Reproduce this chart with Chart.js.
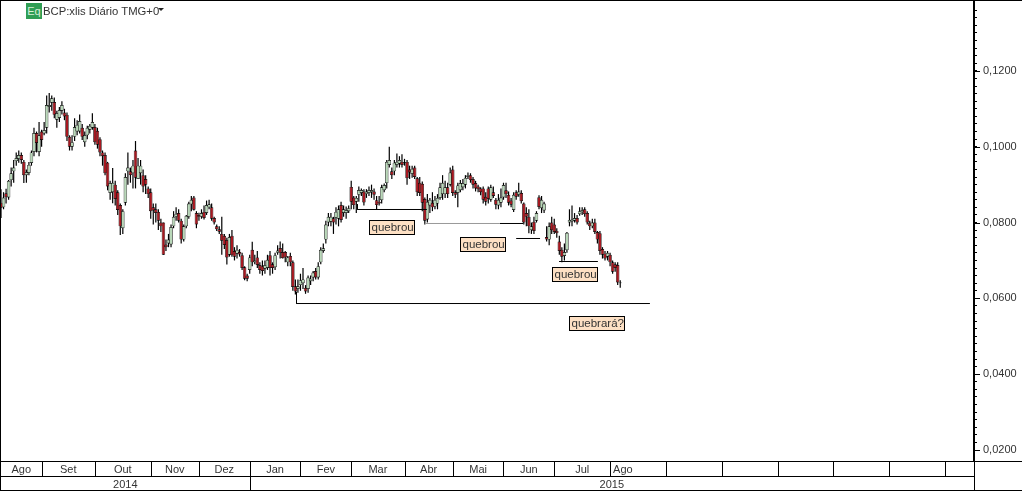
<!DOCTYPE html>
<html>
<head>
<meta charset="utf-8">
<title>BCP:xlis Diário</title>
<script src="https://cdn.jsdelivr.net/npm/chart.js@4"></script>
<style>
  html, body { margin: 0; padding: 0; background: #fff; overflow: hidden; }
  #wrap { position: relative; width: 1022px; height: 491px; font-family: "Liberation Sans", Arial, sans-serif; }
  #badge { position: absolute; left: 26px; top: 3px; width: 16px; height: 16px; background: #2f9e54; color: #d8f0d8; font-size: 11px; line-height: 16px; text-align: center; }
  #title { position: absolute; left: 43px; top: 3px; font-size: 11.3px; line-height: 16px; color: #333; white-space: nowrap; }
  #arrow { position: absolute; left: 158px; top: 8px; width: 0; height: 0; border-left: 3px solid transparent; border-right: 3px solid transparent; border-top: 3px solid #222; }
</style>
</head>
<body>
<div id="wrap">
  <canvas id="chart" width="1022" height="491"></canvas>
  <div id="badge">Eq</div>
  <div id="title">BCP:xlis Diário TMG+0</div>
  <div id="arrow"></div>
</div>
<script>
// daily candles
const opens = [
  0.0852,0.0840,0.0877,0.0866,0.0912,0.0935,0.0962,0.0968,0.0978,0.0960,
  0.0925,0.0931,0.0957,0.0986,0.1036,0.0986,0.1040,0.1035,0.1050,0.1105,
  0.1116,0.1118,0.1071,0.1076,0.1095,0.1090,0.1084,0.1026,0.1000,0.1026,
  0.1040,0.1040,0.1050,0.1012,0.1030,0.1045,0.1050,0.1052,0.1042,0.1020,
  0.0985,0.0978,0.0958,0.0878,0.0880,0.0900,0.0880,0.0846,0.0785,0.0852,
  0.0935,0.0935,0.0930,0.0990,0.0915,0.0930,0.0925,0.0915,0.0890,0.0880,
  0.0840,0.0835,0.0828,0.0800,0.0800,0.0742,0.0745,0.0742,0.0790,0.0815,
  0.0825,0.0805,0.0755,0.0790,0.0815,0.0848,0.0866,0.0825,0.0820,0.0815,
  0.0828,0.0825,0.0840,0.0840,0.0812,0.0790,0.0782,0.0770,0.0765,0.0754,
  0.0715,0.0765,0.0725,0.0718,0.0722,0.0714,0.0682,0.0660,0.0675,0.0728,
  0.0695,0.0708,0.0688,0.0685,0.0678,0.0680,0.0714,0.0690,0.0682,0.0720,
  0.0733,0.0722,0.0722,0.0695,0.0712,0.0695,0.0632,0.0625,0.0635,0.0640,
  0.0628,0.0625,0.0645,0.0655,0.0672,0.0655,0.0695,0.0725,0.0755,0.0800,
  0.0802,0.0811,0.0812,0.0810,0.0846,0.0825,0.0825,0.0830,0.0894,0.0866,
  0.0855,0.0873,0.0878,0.0882,0.0875,0.0878,0.0880,0.0882,0.0859,0.0855,
  0.0859,0.0885,0.0904,0.0952,0.0935,0.0935,0.0952,0.0955,0.0960,0.0958,
  0.0960,0.0940,0.0928,0.0945,0.0917,0.0905,0.0902,0.0862,0.0808,0.0845,
  0.0852,0.0842,0.0850,0.0865,0.0875,0.0875,0.0893,0.0900,0.0940,0.0880,
  0.0878,0.0885,0.0893,0.0900,0.0920,0.0925,0.0915,0.0904,0.0895,0.0890,
  0.0890,0.0868,0.0890,0.0860,0.0880,0.0860,0.0845,0.0852,0.0866,0.0885,
  0.0873,0.0858,0.0833,0.0880,0.0873,0.0878,0.0850,0.0825,0.0815,0.0780,
  0.0802,0.0805,0.0867,0.0838,0.0832,0.0762,0.0755,0.0800,0.0795,0.0778,
  0.0750,0.0728,0.0712,0.0727,0.0800,0.0803,0.0805,0.0812,0.0822,0.0827,
  0.0835,0.0825,0.0800,0.0790,0.0800,0.0775,0.0772,0.0730,0.0718,0.0710,
  0.0715,0.0695,0.0690,0.0688,0.0642
];
const closes = [
  0.0839,0.0866,0.0867,0.0910,0.0930,0.0945,0.0970,0.0978,0.0965,0.0925,
  0.0933,0.0952,0.0985,0.1036,0.1010,0.1030,0.1018,0.1044,0.1110,0.1110,
  0.1128,0.1084,0.1089,0.1097,0.1110,0.1080,0.1026,0.1000,0.1012,0.1052,
  0.1058,0.1068,0.1026,0.1031,0.1050,0.1055,0.1065,0.1012,0.1005,0.0985,
  0.0975,0.0930,0.0895,0.0904,0.0905,0.0862,0.0833,0.0790,0.0830,0.0920,
  0.0945,0.0925,0.0950,0.0918,0.0950,0.0950,0.0895,0.0900,0.0875,0.0830,
  0.0832,0.0825,0.0805,0.0790,0.0715,0.0735,0.0755,0.0788,0.0815,0.0823,
  0.0805,0.0755,0.0790,0.0818,0.0850,0.0860,0.0834,0.0795,0.0815,0.0825,
  0.0812,0.0846,0.0848,0.0810,0.0800,0.0782,0.0776,0.0752,0.0741,0.0708,
  0.0762,0.0714,0.0710,0.0728,0.0716,0.0680,0.0652,0.0652,0.0708,0.0695,
  0.0700,0.0688,0.0675,0.0672,0.0688,0.0702,0.0680,0.0680,0.0714,0.0726,
  0.0720,0.0706,0.0708,0.0708,0.0695,0.0630,0.0618,0.0632,0.0648,0.0650,
  0.0618,0.0655,0.0652,0.0668,0.0655,0.0685,0.0728,0.0732,0.0795,0.0815,
  0.0815,0.0800,0.0828,0.0835,0.0807,0.0835,0.0833,0.0838,0.0855,0.0846,
  0.0865,0.0886,0.0886,0.0853,0.0882,0.0886,0.0886,0.0873,0.0846,0.0850,
  0.0893,0.0899,0.0960,0.0965,0.0925,0.0958,0.0960,0.0965,0.0952,0.0960,
  0.0917,0.0932,0.0942,0.0920,0.0880,0.0878,0.0852,0.0805,0.0855,0.0860,
  0.0840,0.0860,0.0865,0.0893,0.0905,0.0893,0.0875,0.0932,0.0878,0.0873,
  0.0898,0.0904,0.0904,0.0918,0.0925,0.0912,0.0900,0.0890,0.0888,0.0880,
  0.0860,0.0855,0.0862,0.0893,0.0870,0.0847,0.0860,0.0866,0.0899,0.0875,
  0.0852,0.0847,0.0873,0.0868,0.0882,0.0856,0.0800,0.0815,0.0790,0.0790,
  0.0778,0.0825,0.0841,0.0860,0.0850,0.0755,0.0790,0.0780,0.0775,0.0772,
  0.0725,0.0710,0.0722,0.0773,0.0807,0.0808,0.0812,0.0800,0.0830,0.0833,
  0.0822,0.0800,0.0790,0.0800,0.0775,0.0755,0.0725,0.0715,0.0705,0.0720,
  0.0695,0.0670,0.0680,0.0642,0.0640
];
const highs = [
  0.0888,0.0880,0.0889,0.0912,0.0945,0.0965,0.0985,0.0990,0.0985,0.0965,
  0.0940,0.0960,0.0990,0.1050,0.1040,0.1065,0.1045,0.1065,0.1135,0.1142,
  0.1135,0.1130,0.1095,0.1105,0.1120,0.1100,0.1090,0.1030,0.1030,0.1075,
  0.1070,0.1085,0.1060,0.1040,0.1055,0.1060,0.1088,0.1060,0.1050,0.1025,
  0.0990,0.0985,0.0960,0.0910,0.0944,0.0910,0.0885,0.0850,0.0835,0.0930,
  0.0985,0.0945,0.0965,0.1015,0.0970,0.0965,0.0940,0.0925,0.0895,0.0890,
  0.0850,0.0850,0.0835,0.0810,0.0800,0.0755,0.0770,0.0795,0.0830,0.0840,
  0.0835,0.0810,0.0795,0.0820,0.0855,0.0870,0.0870,0.0830,0.0826,0.0835,
  0.0845,0.0858,0.0860,0.0850,0.0815,0.0795,0.0790,0.0815,0.0770,0.0760,
  0.0770,0.0780,0.0735,0.0740,0.0730,0.0720,0.0685,0.0665,0.0715,0.0749,
  0.0715,0.0725,0.0695,0.0700,0.0700,0.0715,0.0725,0.0695,0.0720,0.0740,
  0.0750,0.0745,0.0725,0.0712,0.0720,0.0700,0.0650,0.0650,0.0665,0.0680,
  0.0635,0.0660,0.0660,0.0672,0.0680,0.0695,0.0735,0.0745,0.0805,0.0825,
  0.0825,0.0815,0.0840,0.0845,0.0855,0.0845,0.0842,0.0845,0.0910,0.0870,
  0.0870,0.0895,0.0890,0.0888,0.0888,0.0895,0.0900,0.0890,0.0870,0.0870,
  0.0900,0.0903,0.0965,0.1000,0.0945,0.0965,0.0982,0.0975,0.0980,0.0968,
  0.0965,0.0950,0.0950,0.0950,0.0920,0.0920,0.0908,0.0866,0.0875,0.0865,
  0.0880,0.0870,0.0875,0.0905,0.0925,0.0910,0.0905,0.0945,0.0950,0.0885,
  0.0905,0.0912,0.0915,0.0925,0.0932,0.0930,0.0920,0.0910,0.0900,0.0893,
  0.0895,0.0880,0.0895,0.0900,0.0895,0.0865,0.0875,0.0890,0.0905,0.0905,
  0.0882,0.0865,0.0880,0.0885,0.0905,0.0885,0.0853,0.0840,0.0835,0.0800,
  0.0815,0.0830,0.0872,0.0870,0.0855,0.0790,0.0800,0.0815,0.0810,0.0785,
  0.0765,0.0735,0.0745,0.0775,0.0835,0.0845,0.0825,0.0820,0.0840,0.0840,
  0.0840,0.0830,0.0805,0.0810,0.0810,0.0778,0.0778,0.0735,0.0725,0.0725,
  0.0720,0.0700,0.0695,0.0695,0.0648
];
const lows = [
  0.0812,0.0835,0.0850,0.0860,0.0895,0.0905,0.0950,0.0958,0.0955,0.0904,
  0.0905,0.0925,0.0950,0.0975,0.0985,0.0975,0.1000,0.1030,0.1035,0.1090,
  0.1095,0.1075,0.1050,0.1065,0.1085,0.1070,0.1015,0.0990,0.0990,0.1015,
  0.1030,0.1035,0.1018,0.1000,0.1020,0.1035,0.1045,0.1005,0.0995,0.0975,
  0.0950,0.0925,0.0885,0.0860,0.0851,0.0845,0.0820,0.0767,0.0770,0.0845,
  0.0900,0.0905,0.0890,0.0890,0.0915,0.0900,0.0880,0.0875,0.0865,0.0810,
  0.0795,0.0800,0.0780,0.0775,0.0715,0.0725,0.0735,0.0735,0.0785,0.0805,
  0.0800,0.0745,0.0750,0.0785,0.0810,0.0830,0.0832,0.0785,0.0805,0.0810,
  0.0808,0.0820,0.0835,0.0805,0.0795,0.0778,0.0770,0.0715,0.0730,0.0689,
  0.0710,0.0710,0.0700,0.0705,0.0710,0.0675,0.0648,0.0645,0.0665,0.0685,
  0.0690,0.0680,0.0665,0.0660,0.0665,0.0675,0.0660,0.0665,0.0675,0.0715,
  0.0705,0.0705,0.0695,0.0685,0.0685,0.0620,0.0610,0.0615,0.0620,0.0625,
  0.0612,0.0615,0.0635,0.0645,0.0650,0.0650,0.0690,0.0720,0.0745,0.0790,
  0.0790,0.0770,0.0795,0.0790,0.0800,0.0815,0.0810,0.0825,0.0835,0.0835,
  0.0825,0.0855,0.0870,0.0845,0.0865,0.0870,0.0865,0.0860,0.0835,0.0845,
  0.0850,0.0880,0.0890,0.0945,0.0915,0.0925,0.0945,0.0945,0.0945,0.0950,
  0.0900,0.0915,0.0918,0.0915,0.0870,0.0870,0.0830,0.0795,0.0800,0.0825,
  0.0830,0.0835,0.0835,0.0860,0.0860,0.0865,0.0865,0.0895,0.0870,0.0865,
  0.0840,0.0880,0.0885,0.0890,0.0915,0.0905,0.0890,0.0882,0.0880,0.0872,
  0.0850,0.0845,0.0850,0.0855,0.0865,0.0835,0.0835,0.0840,0.0860,0.0865,
  0.0845,0.0840,0.0828,0.0860,0.0868,0.0850,0.0795,0.0790,0.0772,0.0770,
  0.0770,0.0800,0.0835,0.0825,0.0825,0.0750,0.0740,0.0770,0.0770,0.0760,
  0.0715,0.0695,0.0700,0.0720,0.0790,0.0790,0.0800,0.0795,0.0818,0.0820,
  0.0815,0.0795,0.0780,0.0785,0.0770,0.0745,0.0715,0.0705,0.0700,0.0700,
  0.0685,0.0665,0.0670,0.0635,0.0628
];

// bottom strip: first bar of each month / year
const monthLabels = ['Ago','Set','Out','Nov','Dez','Jan','Fev','Mar','Abr','Mai','Jun','Jul','Ago','','','','','',''];
const monthStarts = [0,16,37,59,78,98,118,138,159,178,198,218,240,262,284,306,328,350,372];
const yearLabels = ['2014','2015'];
const yearStarts = [0,98];

// trend lines drawn by hand on the original: bar positions and price levels
const lineXs = [[116.44,116.44,255.7],[140.47,140.47,167.8],[167,196.6],[196.6,205.7],[203,212.4],[219.9,235.2]];
const lineYs = [[0.0617,0.05864,0.05864],[0.0848,0.08344,0.08344],[0.07975,0.07975],[0.07975,0.07975],[0.07579,0.07579],[0.06972,0.06972]];
const lineColors = ['#000','#000','#999','#000','#000','#000'];

// text boxes: bar position of the left edge, price of the top edge
const noteTexts = ['quebrou','quebrou','quebrou','quebrará?'];
const noteXs = [145,181,217.2,223.8];
const noteYs = [0.0806,0.0761,0.0682,0.0553];

const lastBar = 383.4;
const yMin = 0.0171, yMax = 0.1387;

const candles = opens.map((o, i) => ({ x: i, y: [o, closes[i]] }));
const wicks = lows.map((l, i) => ({ x: i, y: [l, highs[i]] }));

const lineSets = lineXs.map((xs, k) => ({
    type: 'line',
    data: xs.map((x, j) => ({ x: x, y: lineYs[k][j] })),
    borderColor: lineColors[k],
    borderWidth: 1,
    pointRadius: 0,
    tension: 0,
    order: 0
}));

// strip, axis frame and note boxes; everything placed through the chart scales
const frame = {
    id: 'frame',
    afterDraw(chart) {
        const ctx = chart.ctx;
        const xs = chart.scales.x, ys = chart.scales.y;
        const area = chart.chartArea;
        const row1 = Math.round(area.bottom) + 0.5, row2 = row1 + 15, row3 = row1 + 29;
        const right = Math.round(area.right);

        ctx.save();
        ctx.strokeStyle = '#000';
        ctx.lineWidth = 1;
        ctx.beginPath();
        ctx.moveTo(0, 0.5); ctx.lineTo(1022, 0.5);
        ctx.moveTo(0.5, 0); ctx.lineTo(0.5, row3);
        ctx.moveTo(0, row1); ctx.lineTo(1022, row1);
        ctx.moveTo(0, row2); ctx.lineTo(right, row2);
        ctx.moveTo(0, row3); ctx.lineTo(1022, row3);
        ctx.moveTo(right + 0.5, row1); ctx.lineTo(right + 0.5, row3);
        monthStarts.slice(1).forEach(m => {
            const p = Math.round(xs.getPixelForValue(m)) + 0.5;
            ctx.moveTo(p, row1); ctx.lineTo(p, row2);
        });
        yearStarts.slice(1).forEach(m => {
            const p = Math.round(xs.getPixelForValue(m)) + 0.5;
            ctx.moveTo(p, row2); ctx.lineTo(p, row3);
        });
        // long marks on the labelled ticks
        ys.ticks.forEach(t => {
            if (Math.round(t.value * 10000) % 200 === 0) {
                const p = Math.round(ys.getPixelForValue(t.value)) + 0.5;
                ctx.moveTo(area.right, p); ctx.lineTo(area.right + 6, p);
            }
        });
        ctx.stroke();

        ctx.font = '11px "Liberation Sans", Arial, sans-serif';
        ctx.fillStyle = '#333';
        ctx.textBaseline = 'middle';
        monthLabels.forEach((txt, i) => {
            if (!txt) return;
            const a = xs.getPixelForValue(monthStarts[i]);
            const b = xs.getPixelForValue(i + 1 < monthStarts.length ? monthStarts[i + 1] : lastBar);
            // the running month only gets the start of its cell
            if (!monthLabels[i + 1]) {
                ctx.textAlign = 'left';
                ctx.fillText(txt, a + 3, row1 + 8);
            } else {
                ctx.textAlign = 'center';
                ctx.fillText(txt, (a + b) / 2, row1 + 8);
            }
        });
        ctx.textAlign = 'center';
        yearLabels.forEach((txt, i) => {
            const a = xs.getPixelForValue(yearStarts[i]);
            const b = xs.getPixelForValue(i + 1 < yearStarts.length ? yearStarts[i + 1] : lastBar);
            ctx.fillText(txt, (a + b) / 2, row2 + 8);
        });

        // note boxes
        ctx.font = '11.5px "Liberation Sans", Arial, sans-serif';
        ctx.textAlign = 'left';
        noteTexts.forEach((txt, i) => {
            const x = Math.round(xs.getPixelForValue(noteXs[i])) + 0.5;
            const y = Math.round(ys.getPixelForValue(noteYs[i])) + 0.5;
            const w = Math.round(ctx.measureText(txt).width) + 3;
            ctx.fillStyle = '#fde0c4';
            ctx.fillRect(x, y, w, 14);
            ctx.strokeStyle = '#000';
            ctx.strokeRect(x, y, w, 14);
            ctx.fillStyle = '#333';
            ctx.fillText(txt, x + 2, y + 7.5);
        });
        ctx.restore();
    }
};

new Chart(document.getElementById('chart'), {
    data: {
        datasets: [
            ...lineSets,
            {
                type: 'bar',
                data: candles,
                barThickness: 3.5,
                grouped: false,
                borderWidth: 0.7,
                borderColor: '#000',
                borderSkipped: false,
                inflateAmount: 0,
                backgroundColor: ctx => closes[ctx.dataIndex] >= opens[ctx.dataIndex] ? '#b9d8b9' : '#a81820',
                order: 1
            },
            {
                type: 'bar',
                data: wicks,
                barThickness: 1.2,
                grouped: false,
                borderWidth: 0,
                inflateAmount: 0,
                backgroundColor: '#000',
                order: 2
            }
        ]
    },
    options: {
        responsive: false,
        animation: false,
        layout: { autoPadding: false, padding: { top: 0, left: 1, bottom: 30, right: 0 } },
        plugins: { legend: { display: false }, tooltip: { enabled: false }, title: { display: false } },
        scales: {
            x: { type: 'linear', display: false, min: 0, max: lastBar, offset: false },
            y: {
                position: 'right',
                min: yMin,
                max: yMax,
                afterFit(scale) { scale.width = 48; scale.paddingTop = 0; scale.paddingBottom = 0; },
                grid: { drawOnChartArea: false, tickLength: 3, color: '#000', drawTicks: true },
                border: { color: '#000', width: 2 },
                ticks: {
                    stepSize: 0.002,
                    autoSkip: false,
                    maxRotation: 0,
                    padding: 6,
                    color: '#333',
                    font: { family: '"Liberation Sans", Arial, sans-serif', size: 11 },
                    callback: v => Math.round(v * 10000) % 200 === 0 ? v.toFixed(4).replace('.', ',') : ''
                }
            }
        }
    },
    plugins: [frame]
});
</script>
</body>
</html>
